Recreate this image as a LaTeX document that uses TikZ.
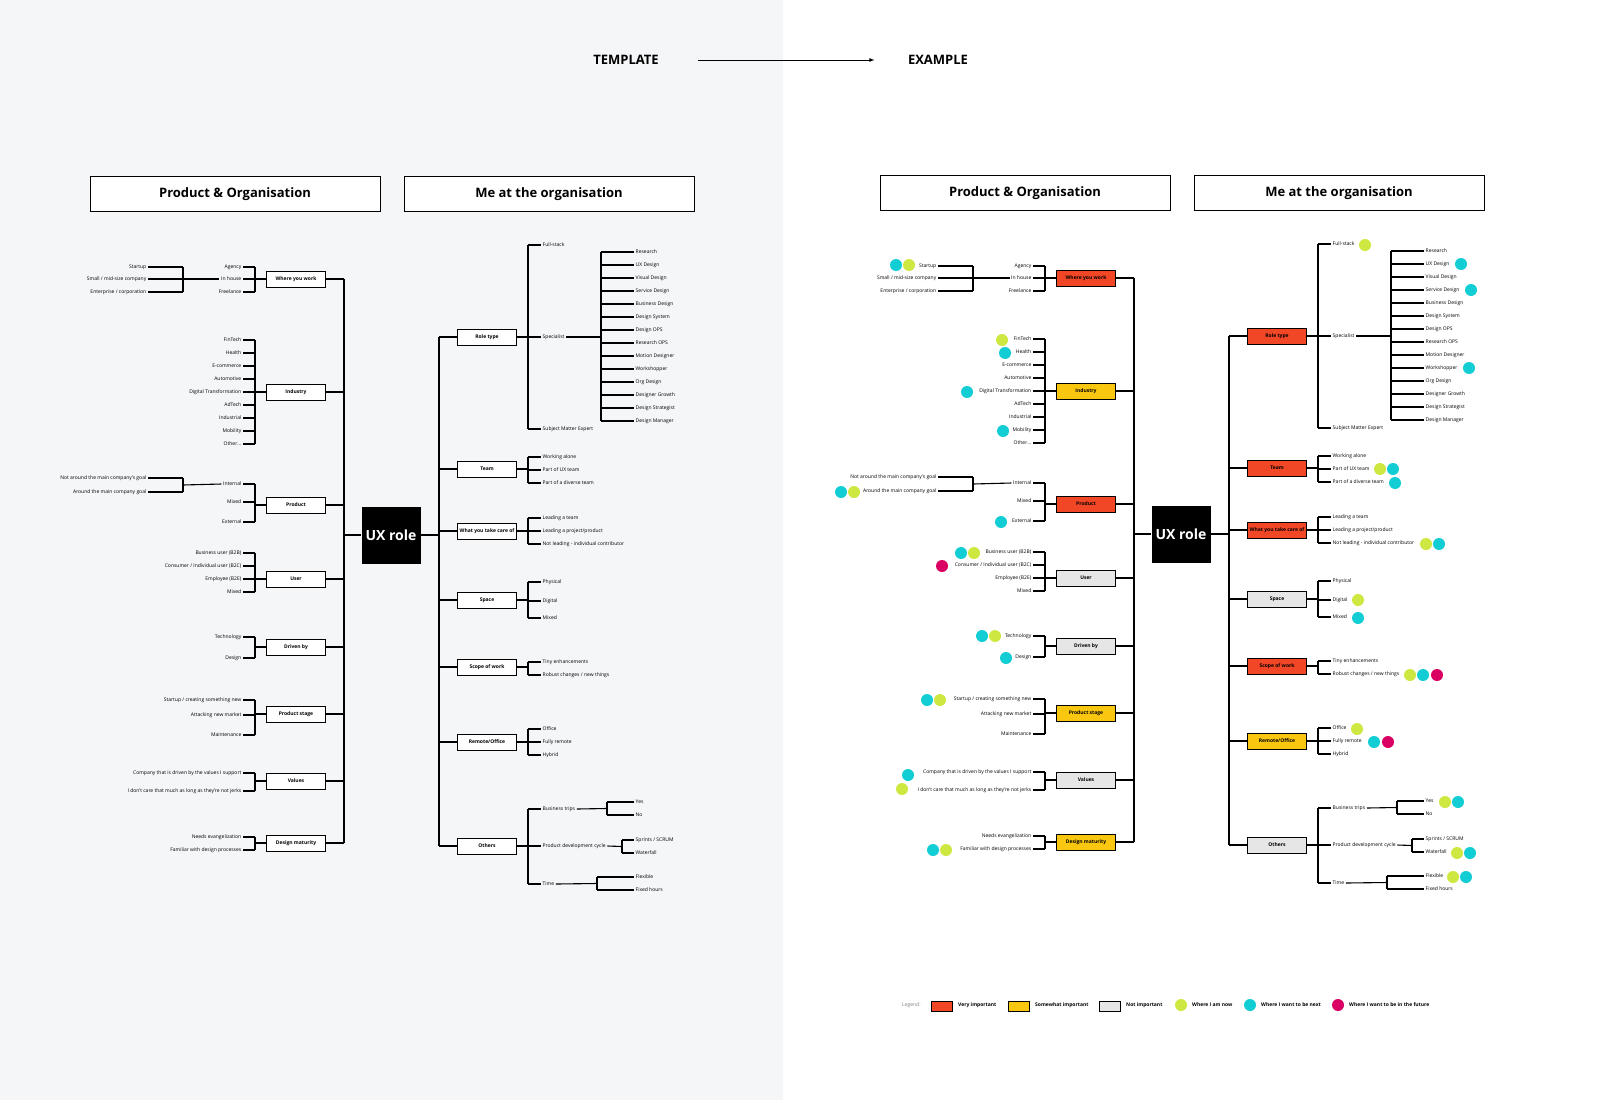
\documentclass[tikz,border=0pt]{standalone}
\usepackage{fontspec}
\setmainfont{Open Sans}
\definecolor{kred}{HTML}{F24726}
\definecolor{kyel}{HTML}{FAC710}
\definecolor{kgry}{HTML}{E6E6E6}
\definecolor{dlime}{HTML}{CEE741}
\definecolor{dcyan}{HTML}{12CDD4}
\definecolor{dmag}{HTML}{DA0063}
\definecolor{bgl}{HTML}{F5F6F8}
\tikzset{
 ln/.style={line width=1.1pt,black},
 cat/.style={draw,line width=0.9pt,fill=white,minimum width=59pt,minimum height=16pt,inner sep=0pt,font=\fontsize{5}{6}\selectfont\bfseries},
 leafL/.style={anchor=east,inner sep=1.5pt,font=\fontsize{5}{6}\selectfont},
 leafR/.style={anchor=west,inner sep=1.5pt,font=\fontsize{5}{6}\selectfont},
 hdr/.style={draw,line width=0.9pt,fill=white,minimum width=290pt,minimum height=35pt,font=\fontsize{13}{15}\selectfont\bfseries},
 dot/.style={circle,inner sep=0pt,minimum size=12pt},
}
\newcommand\lcat[6]{%
 \node[cat,#1s] (#1) at (296,#2) {#3};
 \draw[ln] (#1.east) -- (344,#2);
 \draw[ln] (255,#5) -- (255,#6);
 \draw[ln] (255,#2) -- (#1.west);
 \foreach \yv/\lt [count=\i] in {#4} {\node[leafL] (#1-\i) at (243,\yv) {\lt}; \draw[ln] (#1-\i.east) -- (255,\yv);}
}
\newcommand\rcat[6]{%
 \node[cat,#1s] (#1) at (487,#2) {#3};
 \draw[ln] (439,#2) -- (#1.west);
 \draw[ln] (528,#5) -- (528,#6);
 \draw[ln] (#1.east) -- (528,#2);
 \foreach \yv/\lt [count=\i] in {#4} {\node[leafR] (#1-\i) at (541,\yv) {\lt}; \draw[ln] (528,\yv) -- (#1-\i.west);}
}
\newcommand\subleaves[5]{% #1 prefix, #2 x bracket, #3 list, #4 ymin, #5 ymax
 \draw[ln] (#2,#4) -- (#2,#5);
 \foreach \yv/\lt [count=\i] in {#3} {\node[leafR] (#1-\i) at (634,\yv) {\lt}; \draw[ln] (#2,\yv) -- (#1-\i.west);}
}
\newcommand\uxtree{%
 \node[hdr] (hpo) at (235,194) {Product \& Organisation};
 \node[hdr] (hme) at (549,194) {Me at the organisation};
 \node[fill=black,minimum width=59pt,minimum height=57pt,text=white,font=\fontsize{14}{16}\selectfont\bfseries] (ux) at (391,535) {UX role};
 \draw[ln] (344,279) -- (344,843);
 \draw[ln] (344,535) -- (ux.west);
 \draw[ln] (439,337) -- (439,846);
 \draw[ln] (ux.east) -- (439,535);
 % left tree
 \lcat{where}{279}{Where you work}{267/Agency,279/In house,292/Freelance}{267}{292}
 \foreach \yv/\lt [count=\i] in {267/Startup,279/{Small / mid-size company},292/{Enterprise / corporation}}{\node[leafL] (size-\i) at (148,\yv) {\lt}; \draw[ln] (size-\i.east) -- (183,\yv);}
 \draw[ln] (183,267) -- (183,292); \draw[ln] (183,279) -- (where-2.west);
 \lcat{ind}{392}{Industry}{340/FinTech,353/Health,366/E-commerce,379/Automotive,392/Digital Transformation,405/AdTech,418/Industrial,431/Mobility,444/Other{.}{.}{.}}{340}{444}
 \lcat{prod}{505}{Product}{484/Internal,502/Mixed,522/External}{484}{522}
 \foreach \yv/\lt [count=\i] in {478/Not around the main company's goal,492/Around the main company goal}{\node[leafL] (goal-\i) at (148,\yv) {\lt}; \draw[ln] (goal-\i.east) -- (183,\yv);}
 \draw[ln] (183,478) -- (183,492); \draw[ln] (183,485) -- (prod-1.west);
 \lcat{user}{579}{User}{553/Business user (B2B),566/{Consumer / Individual user (B2C)},579/Employee (B2E),592/Mixed}{553}{592}
 \lcat{drv}{647}{Driven by}{637/Technology,658/Design}{637}{658}
 \lcat{stage}{714}{Product stage}{700/{Startup / creating something new},715/Attacking new market,735/Maintenance}{700}{735}
 \lcat{val}{781}{Values}{773/Company that is driven by the values I support,791/I don't care that much as long as they're not jerks}{773}{791}
 \lcat{mat}{843}{Design maturity}{837/Needs evangelization,850/Familiar with design processes}{837}{850}
 % right tree
 \rcat{role}{337}{Role type}{245/Full-stack,337/Specialist,429/Subject Matter Expert}{245}{429}
 \draw[ln] (role-2.east) -- (601,337);
 \subleaves{spec}{601}{252/Research,265/UX Design,278/Visual Design,291/Service Design,304/Business Design,317/Design System,330/Design OPS,343/Research OPS,356/Motion Designer,369/Workshopper,382/Org Design,395/Designer Growth,408/Design Strategist,421/Design Manager}{252}{421}
 \rcat{team}{469}{Team}{457/Working alone,470/Part of UX team,483/Part of a diverse team}{457}{483}
 \rcat{care}{531}{What you take care of}{518/Leading a team,531/{Leading a project/product},544/Not leading - individual contributor}{518}{544}
 \rcat{space}{600}{Space}{582/Physical,601/Digital,618/Mixed}{582}{618}
 \rcat{scope}{667}{Scope of work}{662/Tiny enhancements,675/{Robust changes / new things}}{662}{675}
 \rcat{rem}{742}{Remote/Office}{729/Office,742/Fully remote,755/Hybrid}{729}{755}
 \rcat{oth}{846}{Others}{809/Business trips,846/Product development cycle,884/Time}{809}{884}
 \draw[ln] (oth-1.east) -- (607,808.5);
 \subleaves{trip}{607}{802/Yes,815/No}{802}{815}
 \draw[ln] (oth-2.east) -- (622,846.5);
 \subleaves{cyc}{622}{840/{Sprints / SCRUM},853/Waterfall}{840}{853}
 \draw[ln] (oth-3.east) -- (597,883.5);
 \subleaves{time}{597}{877/Flexible,890/Fixed hours}{877}{890}
}
\begin{document}
\begin{tikzpicture}[x=1pt,y=-1pt]
\useasboundingbox (0,0) rectangle (1600,1100);
\fill[white] (0,0) rectangle (1600,1100);
\fill[bgl] (0,0) rectangle (783,1100);
\node[font=\fontsize{13}{15}\selectfont\bfseries] (ttpl) at (626,60) {TEMPLATE};
\node[font=\fontsize{13}{15}\selectfont\bfseries] (tex) at (938,60) {EXAMPLE};
\draw[line width=0.8pt,-latex] (698,60) -- ([xshift=-30pt]tex.west);
\begin{scope}[wheres/.style={},inds/.style={},prods/.style={},users/.style={},drvs/.style={},stages/.style={},vals/.style={},mats/.style={},roles/.style={},teams/.style={},cares/.style={},spaces/.style={},scopes/.style={},rems/.style={},oths/.style={}]
\uxtree
\end{scope}
\begin{scope}[shift={(790,-1)},name prefix=R-,
 wheres/.style={fill=kred},inds/.style={fill=kyel},prods/.style={fill=kred},users/.style={fill=kgry},drvs/.style={fill=kgry},stages/.style={fill=kyel},vals/.style={fill=kgry},mats/.style={fill=kyel},roles/.style={fill=kred},teams/.style={fill=kred},cares/.style={fill=kred},spaces/.style={fill=kgry},scopes/.style={fill=kred},rems/.style={fill=kyel},oths/.style={fill=kgry}]
\uxtree
\end{scope}
% dots
\foreach \x/\y/\c [count=\i] in {896/265/dcyan,909/265/dlime,1002/340/dlime,1005/353/dcyan,967/392/dcyan,1003/431/dcyan,841/492/dcyan,854/492/dlime,1001/522/dcyan,961/553/dcyan,974/553/dlime,942/566/dmag,982/636/dcyan,995/636/dlime,1006/658/dcyan,927/700/dcyan,940/700/dlime,908/775/dcyan,902/789/dlime,933/850/dcyan,946/850/dlime,1365/245/dlime,1461/264/dcyan,1471/290/dcyan,1469/368/dcyan,1380/469/dlime,1393/469/dcyan,1395/483/dcyan,1426/544/dlime,1439/544/dcyan,1358/600/dlime,1358/618/dcyan,1410/675/dlime,1423/675/dcyan,1437/675/dmag,1357/729/dlime,1374/742/dcyan,1388/742/dmag,1445/802/dlime,1458/802/dcyan,1457/853/dlime,1470/853/dcyan,1453/877/dlime,1466/877/dcyan}
 \node[dot,fill=\c] (d\i) at (\x,\y) {};
% legend
\tikzset{lg/.style={anchor=west,inner sep=1pt,font=\fontsize{5}{6}\selectfont\bfseries},lgb/.style={draw,line width=0.8pt,minimum width=21pt,minimum height=10pt,inner sep=0pt}}
\node[anchor=west,inner sep=1pt,font=\fontsize{5}{6}\selectfont,text=gray] (lgt) at (901,1005) {Legend:};
\node[lgb,fill=kred] (lb1) at (942,1006) {}; \node[lg] (lt1) at (957,1005) {Very important};
\node[lgb,fill=kyel] (lb2) at (1019,1006) {}; \node[lg] (lt2) at (1034,1005) {Somewhat important};
\node[lgb,fill=kgry] (lb3) at (1110,1006) {}; \node[lg] (lt3) at (1125,1005) {Not important};
\node[dot,fill=dlime] (ld1) at (1181,1005) {}; \node[lg] (lt4) at (1191,1005) {Where I am now};
\node[dot,fill=dcyan] (ld2) at (1250,1005) {}; \node[lg] (lt5) at (1260,1005) {Where I want to be next};
\node[dot,fill=dmag] (ld3) at (1338,1005) {}; \node[lg] (lt6) at (1348,1005) {Where I want to be in the future};
\end{tikzpicture}
\end{document}
